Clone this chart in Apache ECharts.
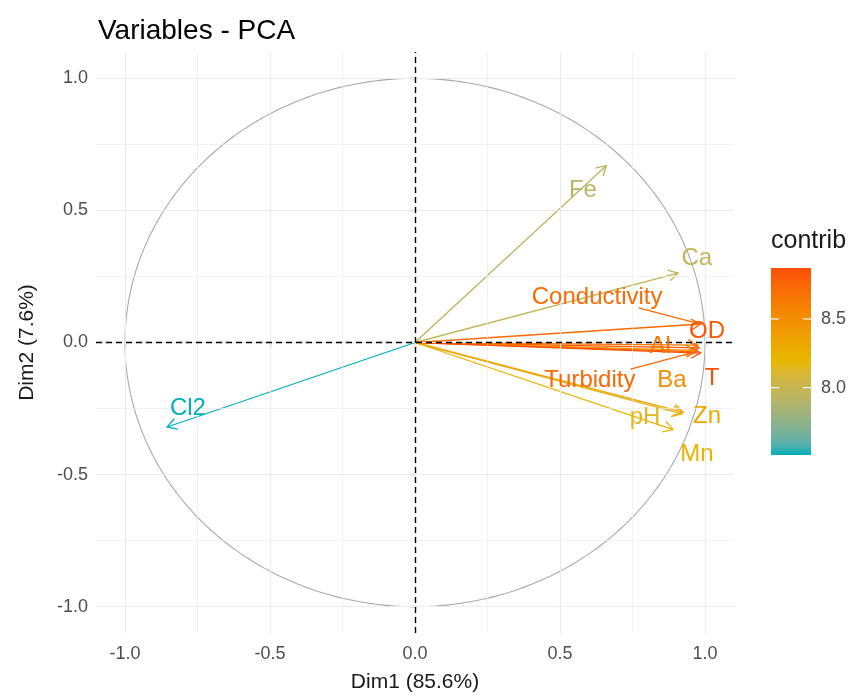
<!DOCTYPE html>
<html>
<head>
<meta charset="utf-8">
<script src="https://cdn.jsdelivr.net/npm/echarts@6/dist/echarts.min.js"></script>
<style>
  html, body { margin: 0; padding: 0; background: #ffffff; }
  #chart { width: 859px; height: 696px; }
</style>
</head>
<body>
<div id="chart"></div>
<script>
// PCA variable coordinates on the first two dimensions
const variables = ['Fe', 'Ca', 'Conductivity', 'OD', 'Al', 'Turbidity', 'Ba', 'T', 'pH', 'Zn', 'Mn', 'Cl2'];
const dim1 = [0.66, 0.907, 0.985, 0.98, 0.975, 0.97, 0.965, 0.985, 0.92, 0.925, 0.89, -0.855];
const dim2 = [0.67, 0.263, 0.07, -0.02, -0.01, -0.035, -0.03, -0.04, -0.27, -0.265, -0.33, -0.32];
// contribution (%) of each variable to Dim1-Dim2
const contrib = [7.93, 7.97, 8.72, 8.83, 8.66, 8.74, 8.50, 8.87, 8.14, 8.32, 8.22, 7.51];
// repelled label anchors (data units)
const labelX = [0.579, 0.972, 0.628, 1.007, 0.845, 0.603, 0.886, 1.024, 0.793, 1.007, 0.972, -0.783];
const labelY = [0.577, 0.319, 0.172, 0.043, -0.013, -0.142, -0.142, -0.134, -0.285, -0.278, -0.425, -0.248];
// labels joined to their arrow tip by a segment
const connected = ['Conductivity', 'Turbidity'];

const axisTicks = [-1, -0.5, 0, 0.5, 1];
const minorTicks = [-0.75, -0.25, 0.25, 0.75];
const legendTicks = [8.0, 8.5];
const gradientColors = ['#00AFBB', '#E7B800', '#FC4E07'];

const FONT = '"Liberation Sans", Arial, sans-serif';
const cMin = Math.min(...contrib);
const cMax = Math.max(...contrib);

// colour ramp interpolated in CIELAB
const WHITE = [0.95047, 1.0, 1.08883];
function hexToRgb(h) {
  const n = parseInt(h.slice(1), 16);
  return [(n >> 16) & 255, (n >> 8) & 255, n & 255];
}
function rgbToLab(rgb) {
  const lin = rgb.map(v => { v /= 255; return v <= 0.04045 ? v / 12.92 : Math.pow((v + 0.055) / 1.055, 2.4); });
  const X = 0.4124 * lin[0] + 0.3576 * lin[1] + 0.1805 * lin[2];
  const Y = 0.2126 * lin[0] + 0.7152 * lin[1] + 0.0722 * lin[2];
  const Z = 0.0193 * lin[0] + 0.1192 * lin[1] + 0.9505 * lin[2];
  const f = t => t > 0.008856 ? Math.cbrt(t) : 7.787 * t + 16 / 116;
  const fx = f(X / WHITE[0]), fy = f(Y / WHITE[1]), fz = f(Z / WHITE[2]);
  return [116 * fy - 16, 500 * (fx - fy), 200 * (fy - fz)];
}
function labToRgb(lab) {
  const fy = (lab[0] + 16) / 116, fx = fy + lab[1] / 500, fz = fy - lab[2] / 200;
  const fi = t => t * t * t > 0.008856 ? t * t * t : (t - 16 / 116) / 7.787;
  const X = fi(fx) * WHITE[0], Y = fi(fy) * WHITE[1], Z = fi(fz) * WHITE[2];
  const r = 3.2406 * X - 1.5372 * Y - 0.4986 * Z;
  const g = -0.9689 * X + 1.8758 * Y + 0.0415 * Z;
  const b = 0.0557 * X - 0.2040 * Y + 1.0570 * Z;
  return [r, g, b].map(v => {
    v = v <= 0.0031308 ? 12.92 * v : 1.055 * Math.pow(v, 1 / 2.4) - 0.055;
    return Math.round(Math.max(0, Math.min(1, v)) * 255);
  });
}
const labStops = gradientColors.map(h => rgbToLab(hexToRgb(h)));
function rampColor(t) {
  t = Math.max(0, Math.min(1, t));
  const seg = t < 0.5 ? 0 : 1;
  const lt = t < 0.5 ? t / 0.5 : (t - 0.5) / 0.5;
  const a = labStops[seg], b = labStops[seg + 1];
  const c = labToRgb(a.map((x, i) => x + (b[i] - x) * lt));
  return 'rgb(' + c.join(',') + ')';
}
function colorFor(v) { return rampColor((v - cMin) / (cMax - cMin)); }

const measureCtx = document.createElement('canvas').getContext('2d');
const LABEL_SIZE = 24;
measureCtx.font = LABEL_SIZE + 'px ' + FONT;

// unit correlation circle
const circle = [];
for (let a = 0; a <= 360; a += 1) {
  const r = a * Math.PI / 180;
  circle.push([Math.cos(r), Math.sin(r)]);
}

const arrowData = variables.map((_, i) => [dim1[i], dim2[i], contrib[i]]);
const labelData = variables.map((_, i) => [labelX[i], labelY[i], contrib[i], dim1[i], dim2[i]]);

const gridStyle = { color: '#ebebeb', type: 'solid' };

const chart = echarts.init(document.getElementById('chart'), null, { renderer: 'canvas' });

const option = {
  animation: false,
  backgroundColor: '#ffffff',
  textStyle: { fontFamily: FONT },
  title: {
    text: 'Variables - PCA',
    left: 93,
    top: 12,
    textStyle: { fontSize: 28, fontWeight: 'normal', color: '#000000', fontFamily: FONT }
  },
  grid: { left: 96, right: 125, top: 52, bottom: 63, outerBoundsMode: 'none', containLabel: false },
  xAxis: {
    type: 'value', min: -1.1, max: 1.1,
    axisLine: { show: false },
    axisTick: { show: true, length: 5, lineStyle: { color: '#333333', width: 1.2 }, customValues: axisTicks },
    axisLabel: { customValues: axisTicks, formatter: v => v.toFixed(1), color: '#4d4d4d', fontSize: 18, margin: 12, fontFamily: FONT },
    splitLine: { show: false },
    name: 'Dim1 (85.6%)', nameLocation: 'middle', nameGap: 39,
    nameTextStyle: { fontSize: 21, color: '#1a1a1a', fontFamily: FONT }
  },
  yAxis: {
    type: 'value', min: -1.1, max: 1.1,
    axisLine: { show: false },
    axisTick: { show: true, length: 5, lineStyle: { color: '#333333', width: 1.2 }, customValues: axisTicks },
    axisLabel: { customValues: axisTicks, formatter: v => v.toFixed(1), color: '#4d4d4d', fontSize: 18, margin: 8, fontFamily: FONT },
    splitLine: { show: false },
    name: 'Dim2 (7.6%)', nameLocation: 'middle', nameGap: 58, nameRotate: 90,
    nameTextStyle: { fontSize: 21, color: '#1a1a1a', fontFamily: FONT }
  },
  series: [
    {
      // panel grid
      type: 'line', data: [], silent: true, z: 1,
      markLine: {
        silent: true, symbol: ['none', 'none'], label: { show: false },
        lineStyle: Object.assign({ width: 1.2 }, gridStyle),
        data: axisTicks.map(v => ({ xAxis: v })).concat(axisTicks.map(v => ({ yAxis: v })))
      }
    },
    {
      type: 'line', data: [], silent: true, z: 1,
      markLine: {
        silent: true, symbol: ['none', 'none'], label: { show: false },
        lineStyle: Object.assign({ width: 0.7 }, gridStyle),
        data: minorTicks.map(v => ({ xAxis: v })).concat(minorTicks.map(v => ({ yAxis: v })))
      }
    },
    {
      // correlation circle
      type: 'line', data: circle, showSymbol: false, silent: true, z: 2,
      lineStyle: { color: '#a8a8a8', width: 1.1 }
    },
    {
      // reference lines through the origin
      type: 'line', data: [], silent: true, z: 3,
      markLine: {
        silent: true, symbol: ['none', 'none'], label: { show: false },
        lineStyle: { color: '#000000', type: [6, 4], width: 1.4 },
        data: [{ xAxis: 0 }, { yAxis: 0 }]
      }
    },
    {
      // variable arrows
      type: 'custom', z: 4, clip: false, silent: true,
      data: arrowData,
      encode: { x: 0, y: 1 },
      renderItem: function (params, api) {
        const p0 = api.coord([0, 0]);
        const p1 = api.coord([api.value(0), api.value(1)]);
        const col = colorFor(api.value(2));
        const ang = Math.atan2(p1[1] - p0[1], p1[0] - p0[0]);
        const L = 11, spread = Math.PI / 6;
        const h1 = [p1[0] - L * Math.cos(ang - spread), p1[1] - L * Math.sin(ang - spread)];
        const h2 = [p1[0] - L * Math.cos(ang + spread), p1[1] - L * Math.sin(ang + spread)];
        return {
          type: 'group',
          children: [
            { type: 'line', shape: { x1: p0[0], y1: p0[1], x2: p1[0], y2: p1[1] },
              style: { stroke: col, lineWidth: 1.3 } },
            { type: 'polyline', shape: { points: [h1, p1, h2] },
              style: { stroke: col, fill: null, lineWidth: 1.3 } }
          ]
        };
      }
    },
    {
      // variable names
      type: 'custom', z: 5, clip: false, silent: true,
      data: labelData,
      encode: { x: 0, y: 1 },
      renderItem: function (params, api) {
        const name = variables[params.dataIndex];
        const c = api.coord([api.value(0), api.value(1)]);
        const col = colorFor(api.value(2));
        const children = [{
          type: 'text', x: c[0], y: c[1],
          style: { text: name, fill: col, font: LABEL_SIZE + 'px ' + FONT, align: 'center', verticalAlign: 'middle' }
        }];
        if (connected.indexOf(name) >= 0) {
          const tip = api.coord([api.value(3), api.value(4)]);
          const hw = measureCtx.measureText(name).width / 2 + 2;
          const hh = LABEL_SIZE * 0.45;
          const dx = tip[0] - c[0], dy = tip[1] - c[1];
          const t = Math.min(hw / Math.abs(dx || 1e-9), hh / Math.abs(dy || 1e-9));
          children.push({
            type: 'line',
            shape: { x1: c[0] + dx * t, y1: c[1] + dy * t, x2: tip[0], y2: tip[1] },
            style: { stroke: col, lineWidth: 1.3 }
          });
        }
        return { type: 'group', children: children };
      }
    }
  ]
};

chart.setOption(option);

// colour bar legend for contrib
(function () {
  const barX = 771, barY = 268, barW = 40, barH = 187;
  const stops = [];
  for (let k = 0; k <= 20; k++) stops.push({ offset: k / 20, color: rampColor(k / 20) });
  const elements = [
    { type: 'text', left: barX, top: 229,
      style: { text: 'contrib', fill: '#1a1a1a', font: '25px ' + FONT } },
    { type: 'rect', shape: { x: barX, y: barY, width: barW, height: barH },
      style: { fill: new echarts.graphic.LinearGradient(0, 1, 0, 0, stops) } }
  ];
  legendTicks.forEach(v => {
    const y = barY + barH - (v - cMin) / (cMax - cMin) * barH;
    elements.push({ type: 'line', shape: { x1: barX, y1: y, x2: barX + 8, y2: y }, style: { stroke: '#ffffff', lineWidth: 1.2 } });
    elements.push({ type: 'line', shape: { x1: barX + barW - 8, y1: y, x2: barX + barW, y2: y }, style: { stroke: '#ffffff', lineWidth: 1.2 } });
    elements.push({ type: 'text', x: barX + barW + 10, y: y,
      style: { text: v.toFixed(1), fill: '#4d4d4d', font: '18px ' + FONT, verticalAlign: 'middle' } });
  });
  chart.setOption({ graphic: elements });
})();
</script>
</body>
</html>
